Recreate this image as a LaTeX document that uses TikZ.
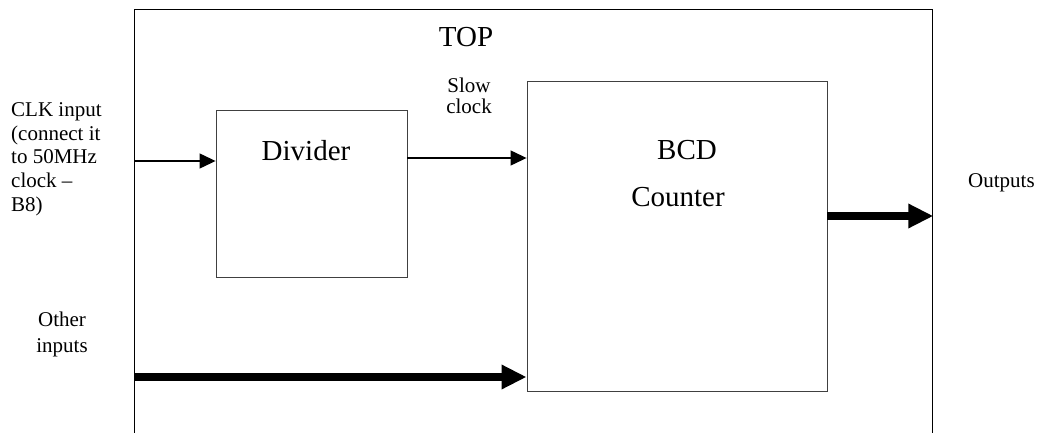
\documentclass[tikz,border=0pt]{standalone}
\usepackage{fontspec}
\setmainfont{Liberation Serif}
\usetikzlibrary{arrows.meta}
\begin{document}
\begin{tikzpicture}[x=1pt,y=-1pt,
  block/.style={draw=black!75, line width=0.9pt, inner sep=0pt},
  big/.style={font=\fontsize{29}{35}\selectfont, inner sep=0pt},
  small/.style={font=\fontsize{21}{23.6}\selectfont, inner sep=0pt},
  thinarrow/.style={line width=1.3pt, -{Triangle[length=16pt,width=15pt]}},
  busarrow/.style={line width=8pt, -{Triangle[length=25pt,width=23pt]}}
]
\useasboundingbox (0,0) rectangle (1040,433);
\fill[white] (0,0) rectangle (1040,433);
\begin{scope}
  \clip (0,0) rectangle (1040,433);
  \node[draw, line width=1.3pt, inner sep=0pt, minimum width=798pt, minimum height=470pt, anchor=north west] (top) at (134,9) {};
\end{scope}
% blocks
\node[block, minimum width=191pt, minimum height=167pt] (div) at (311.5,193.5) {};
\node[block, minimum width=300pt, minimum height=310pt] (bcd) at (677,236) {};
% labels
\node[big, anchor=base] (toplabel) at (466,47) {TOP};
\node[big, anchor=base] (divlabel) at (306,160) {Divider};
\node[big, anchor=base] (bcdlabel) at (687,159) {BCD};
\node[big, anchor=base] (cntlabel) at (678,206) {Counter};
\node[small, anchor=base west] (outlabel) at (968,187) {Outputs};
\node[small, font=\fontsize{21}{21}\selectfont, align=center, anchor=north] (slow) at (469,77.5) {Slow\\clock};
\node[small, align=left, anchor=north west] (clk) at (11,102.5) {CLK input\\(connect it\\to 50MHz\\clock –\\B8)};
\node[small, font=\fontsize{21}{26}\selectfont, align=center, anchor=north] (other) at (62,311.7) {Other\\inputs};
% connectors
\coordinate (clky) at (0,161);
\coordinate (slowy) at (0,158);
\coordinate (othy) at (0,377);
\coordinate (outy) at (0,216);
\draw[thinarrow] (top.west |- clky) -- (div.west |- clky);
\draw[thinarrow] (div.east |- slowy) -- (bcd.west |- slowy);
\draw[busarrow] (top.west |- othy) -- (bcd.west |- othy);
\draw[busarrow] (bcd.east |- outy) -- (top.east |- outy);
\end{tikzpicture}
\end{document}
